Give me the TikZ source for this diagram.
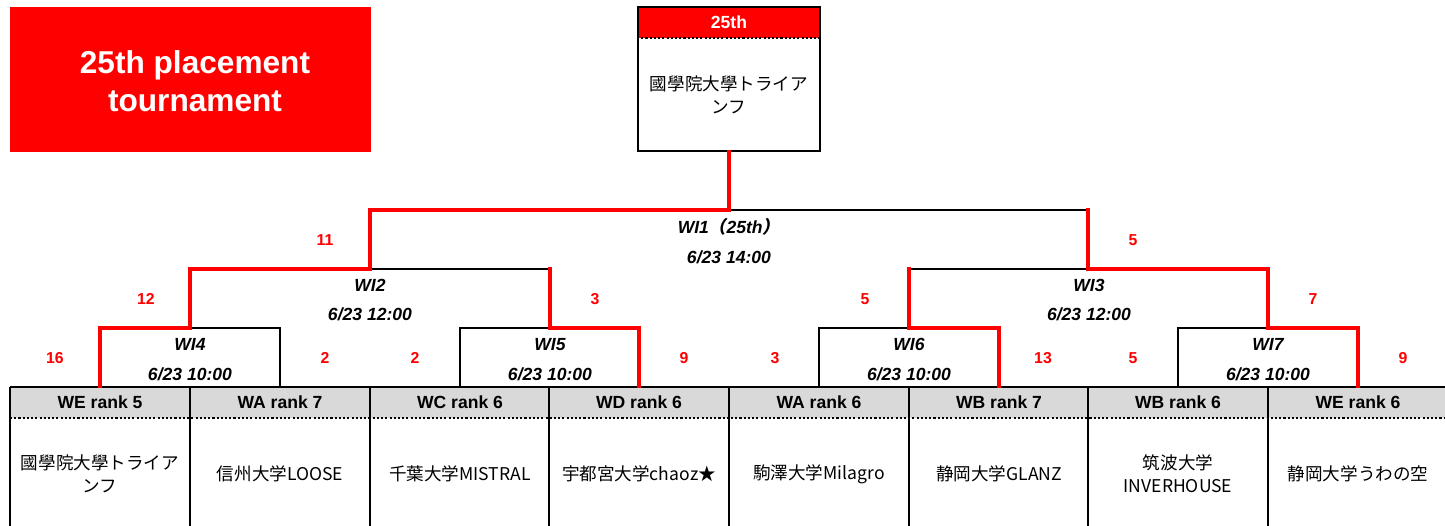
\documentclass[tikz,border=0pt]{standalone}
\usepackage{fontspec}
\setmainfont{Liberation Sans}
\newfontfamily\jp{Noto Sans CJK JP}
\newfontfamily\jpslant[FakeSlant=0.2]{Noto Sans CJK JP}
\definecolor{tred}{RGB}{255,0,0}
\definecolor{hdrgray}{RGB}{217,217,217}
\tikzset{
  win/.style={draw=tred, line width=2.1pt, line cap=rect},
  lose/.style={draw=black, line width=0.6pt},
  frame/.style={draw=black, line width=1.1pt},
  score/.style={text=tred, font=\fontsize{9}{11}\selectfont\bfseries},
  match/.style={align=center, font=\fontsize{10}{17}\selectfont\bfseries\itshape},
  rankhead/.style={fill=hdrgray, minimum width=3.6cm, minimum height=0.62cm, inner sep=0pt, font=\fontsize{10}{12}\selectfont\bfseries},
  teamname/.style={align=center, font=\fontsize{10}{13}\selectfont\jp},
}

\begin{document}
\begin{tikzpicture}[x=0.02cm, y=-0.02cm]
        \useasboundingbox (0,0) rectangle (1445,526);

                % Title box and the winner's box on top
                \node[fill=tred, minimum width=7.22cm, minimum height=2.9cm] (title) at (190.5,79.5) {};
                \node[text=white, align=center, font=\fontsize{18}{21.5}\selectfont\bfseries] (titletext) at (195,81) {25th placement\\tournament};
                \node[fill=tred, minimum width=3.64cm, minimum height=0.62cm, inner sep=0pt, text=white,
                      font=\fontsize{10}{12}\selectfont\bfseries] (champhead) at (729,22.5) {25th};
                \node[frame, minimum width=3.64cm, minimum height=2.88cm, inner sep=0pt] (champ) at (729,79) {};
                \draw[line width=1.1pt, dash pattern=on 1.2pt off 1.2pt] (champ.west |- 0,38) -- (champ.east |- 0,38);
                \node[teamname] (champname) at (729,95) {國學院大學トライア\\ンフ};

                % Rank headers and team names
                \node[rankhead] (h1) at (100,402.5) {WE rank 5};
                \node[rankhead] (h2) at (280,402.5) {WA rank 7};
                \node[rankhead] (h3) at (460,402.5) {WC rank 6};
                \node[rankhead] (h4) at (639,402.5) {WD rank 6};
                \node[rankhead] (h5) at (819,402.5) {WA rank 6};
                \node[rankhead] (h6) at (999,402.5) {WB rank 7};
                \node[rankhead] (h7) at (1178,402.5) {WB rank 6};
                \node[rankhead] (h8) at (1358,402.5) {WE rank 6};

                \node[teamname] (t1) at (100,474) {國學院大學トライア\\ンフ};
                \node[teamname] (t2) at (280,474) {信州大学LOOSE};
                \node[teamname] (t3) at (460,474) {千葉大学MISTRAL};
                \node[teamname] (t4) at (639,474) {宇都宮大学chaoz★};
                \node[teamname] (t5) at (819,474) {駒澤大学Milagro};
                \node[teamname] (t6) at (999,474) {静岡大学GLANZ};
                \node[teamname] (t7) at (1178,474) {筑波大学\\INVERHOUSE};
                \node[teamname] (t8) at (1358,474) {静岡大学うわの空};

                % Grid of the team table
                \draw[frame] (10,387) -- (1445,387);
                \draw[line width=1.1pt, dash pattern=on 1.2pt off 1.2pt] (10,418) -- (1445,418);
                \draw[frame] (10,387) -- (10,526);
                \draw[frame] (190,387) -- (190,526);
                \draw[frame] (370,387) -- (370,526);
                \draw[frame] (549,387) -- (549,526);
                \draw[frame] (729,387) -- (729,526);
                \draw[frame] (909,387) -- (909,526);
                \draw[frame] (1088,387) -- (1088,526);
                \draw[frame] (1268,387) -- (1268,526);

                % Match points of the bracket
                \coordinate (wi4) at (190,328);
                \coordinate (wi5) at (550,328);
                \coordinate (wi6) at (909,328);
                \coordinate (wi7) at (1268,328);
                \coordinate (wi2) at (370,269);
                \coordinate (wi3) at (1088,269);
                \coordinate (wi1) at (729,210);

                % First round
                \draw[lose] (h2.north) |- (wi4);
                \draw[lose] (h3.north) |- (wi5);
                \draw[lose] (h5.north) |- (wi6);
                \draw[lose] (h7.north) |- (wi7);
                \draw[win] (h1.north) |- (wi4);
                \draw[win] (h4.north) |- (wi5);
                \draw[win] (h6.north) |- (wi6);
                \draw[win] (h8.north) |- (wi7);

                % Second round
                \draw[lose] (wi5 |- wi2) -- (wi2);
                \draw[lose] (wi6 |- wi3) -- (wi3);
                \draw[win] (wi4) |- (wi2);
                \draw[win] (wi5) -- (wi5 |- wi2);
                \draw[win] (wi6) -- (wi6 |- wi3);
                \draw[win] (wi7) |- (wi3);

                % Final
                \draw[lose] (wi3 |- wi1) -- (wi1);
                \draw[win] (wi3) -- (wi3 |- wi1);
                \draw[win] (wi2) |- (wi1) -- (champ.south);

                % Match names and times
                \node[match] (wi1lbl) at (729,241) {WI1{\jpslant （}25th{\jpslant ）}\\6/23 14:00};
                \node[match] (wi2lbl) at (370,300) {WI2\\6/23 12:00};
                \node[match] (wi3lbl) at (1089,300) {WI3\\6/23 12:00};
                \node[match] (wi4lbl) at (190,359.5) {WI4\\6/23 10:00};
                \node[match] (wi5lbl) at (550,359.5) {WI5\\6/23 10:00};
                \node[match] (wi6lbl) at (909,359.5) {WI6\\6/23 10:00};
                \node[match] (wi7lbl) at (1268,359.5) {WI7\\6/23 10:00};

                % Scores
                \node[score] (s1) at (325,240) {11};
                \node[score] (s2) at (1133,240) {5};
                \node[score] (s3) at (146,299) {12};
                \node[score] (s4) at (595,299) {3};
                \node[score] (s5) at (865,299) {5};
                \node[score] (s6) at (1313,299) {7};
                \node[score] (s7) at (55,358) {16};
                \node[score] (s8) at (325,358) {2};
                \node[score] (s9) at (415,358) {2};
                \node[score] (s10) at (684,358) {9};
                \node[score] (s11) at (775,358) {3};
                \node[score] (s12) at (1043,358) {13};
                \node[score] (s13) at (1133,358) {5};
                \node[score] (s14) at (1403,358) {9};
            \end{tikzpicture}
\end{document}
